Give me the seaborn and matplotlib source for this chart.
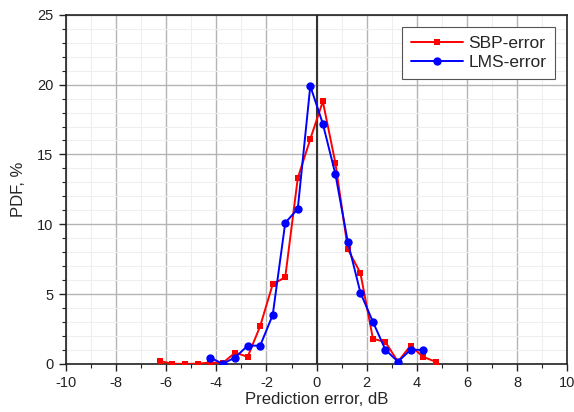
import numpy as np
import pandas as pd
import matplotlib
matplotlib.use("Agg")
import matplotlib.pyplot as plt
from matplotlib.ticker import MultipleLocator
import seaborn as sns

# Bin centres of prediction error (dB) and PDF values (%)
sbp_x = [-6.25, -5.75, -5.25, -4.75, -4.25, -3.75, -3.25, -2.75, -2.25, -1.75, -1.25,
         -0.75, -0.25, 0.25, 0.75, 1.25, 1.75, 2.25, 2.75, 3.25, 3.75, 4.25, 4.75]
sbp_pdf = [0.2, 0.0, 0.0, 0.0, 0.1, 0.05, 0.8, 0.5, 2.7, 5.7, 6.2,
           13.3, 16.1, 18.8, 14.4, 8.2, 6.5, 1.8, 1.55, 0.15, 1.3, 0.5, 0.15]

lms_x = [-4.25, -3.75, -3.25, -2.75, -2.25, -1.75, -1.25, -0.75, -0.25,
         0.25, 0.75, 1.25, 1.75, 2.25, 2.75, 3.25, 3.75, 4.25]
lms_pdf = [0.45, 0.0, 0.45, 1.3, 1.3, 3.5, 10.1, 11.1, 19.9,
           17.2, 13.6, 8.7, 5.1, 3.0, 1.0, 0.15, 1.0, 1.0]

x_label = "Prediction error, dB"
y_label = "PDF, %"

sns.set_style("white")
plt.rcParams["font.family"] = ["Liberation Sans", "DejaVu Sans"]
plt.rcParams["axes.unicode_minus"] = False

fig = plt.figure(figsize=(5.74, 4.12), dpi=100)
ax = fig.add_axes([0.115, 0.117, 0.873, 0.847])

df_sbp = pd.DataFrame({"x": sbp_x, "y": sbp_pdf})
df_lms = pd.DataFrame({"x": lms_x, "y": lms_pdf})

sns.lineplot(data=df_sbp, x="x", y="y", ax=ax, color="#ff0000", marker="s",
             markersize=5, markeredgewidth=0, linewidth=1.4, label="SBP-error",
             zorder=3)
sns.lineplot(data=df_lms, x="x", y="y", ax=ax, color="#0000ff", marker="o",
             markersize=6, markeredgewidth=0, linewidth=1.4, label="LMS-error",
             zorder=4)

ax.set_xlim(-10, 10)
ax.set_ylim(0, 25)
ax.xaxis.set_major_locator(MultipleLocator(2))
ax.xaxis.set_minor_locator(MultipleLocator(1))
ax.yaxis.set_major_locator(MultipleLocator(5))
ax.yaxis.set_minor_locator(MultipleLocator(1))

ax.grid(which="major", color="#b4b4b4", linewidth=1.0)
ax.grid(which="minor", color="#efefef", linewidth=0.8)
ax.set_axisbelow(True)
ax.axvline(0, color="#333333", linewidth=1.5, zorder=2)

for s in ax.spines.values():
    s.set_color("#222222")
    s.set_linewidth(1.2)

ax.tick_params(which="major", direction="out", length=5, width=1.0,
               labelsize=10.5, colors="#222222", bottom=True, left=True, pad=4)
ax.tick_params(which="minor", direction="out", length=3, width=0.8,
               bottom=True, left=True, colors="#222222")

ax.set_xlabel(x_label, fontsize=12, labelpad=1)
ax.set_ylabel(y_label, fontsize=12, labelpad=8)

leg = ax.legend(loc="upper right", fontsize=12.5, frameon=True, fancybox=False,
                edgecolor="#555555", framealpha=1, handlelength=3.0,
                borderaxespad=0.7, labelspacing=0.25, borderpad=0.5,
                handletextpad=0.3)
leg.get_frame().set_linewidth(0.8)

fig.savefig("out.png", dpi=100)
